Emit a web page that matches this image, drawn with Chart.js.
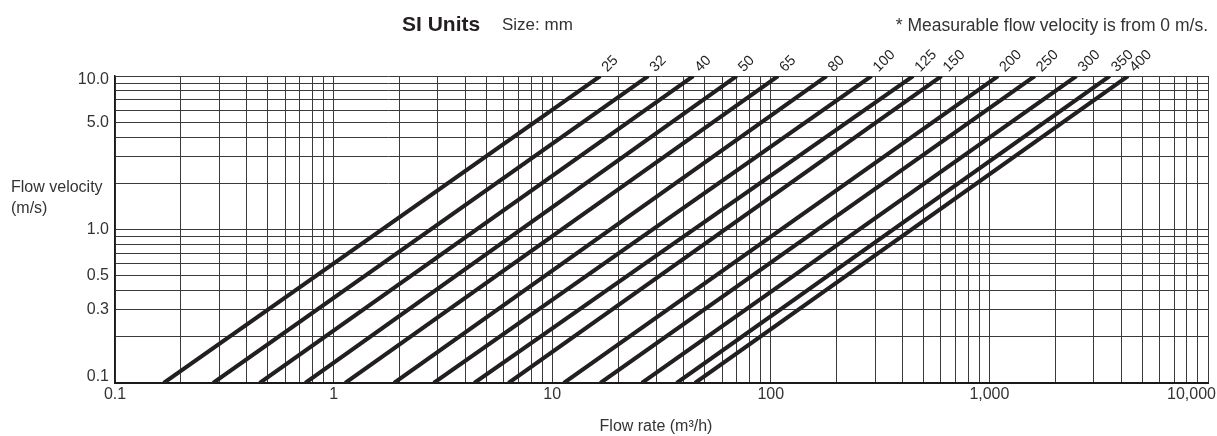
<!DOCTYPE html>
<html>
<head>
<meta charset="utf-8">
<script src="https://cdn.jsdelivr.net/npm/chart.js@4/dist/chart.umd.min.js"></script>
<style>
  html, body { margin: 0; padding: 0; background: #fff; }
  #wrap { width: 1217px; height: 436px; position: relative; }
</style>
</head>
<body>
<div id="wrap"><canvas id="chart" width="1217" height="436"></canvas></div>
<script>
// Nominal pipe sizes (mm)
const pipeSizes = ['25', '32', '40', '50', '65', '80', '100', '125', '150', '200', '250', '300', '350', '400'];
// Flow rate (m³/h) where each size line meets 0.1 m/s
const flowAtLowVelocity = [0.167, 0.281, 0.459, 0.742, 1.13, 1.89, 2.87, 4.40, 6.31, 11.3, 16.6, 25.7, 37.1, 45.0];
// Flow rate (m³/h) where each size line meets 10 m/s
const flowAtHighVelocity = [16.6, 27.5, 44.2, 69.8, 108, 180, 289, 448, 604, 1096, 1614, 2503, 3553, 4309];
// Velocity span of every line (m/s)
const velocityRange = [0.1, 10];

// Axis labels
const xTickValues = [0.1, 1, 10, 100, 1000, 10000];
const xTickLabels = ['0.1', '1', '10', '100', '1,000', '10,000'];
const yTickValues = [0.1, 0.3, 0.5, 1, 5, 10];
const yTickLabels = ['0.1', '0.3', '0.5', '1.0', '5.0', '10.0'];

const FONT = "'Liberation Sans', Arial, Helvetica, sans-serif";
const INK = '#231f20';
const TEXT = '#333333';

// Log grid: 1..9 in every decade between the axis limits
function logGrid(minExp, maxExp) {
  const vals = [];
  for (let e = minExp; e < maxExp; e++) {
    for (let m = 1; m <= 9; m++) vals.push(Number((m * Math.pow(10, e)).toPrecision(6)));
  }
  vals.push(Math.pow(10, maxExp));
  return vals;
}

const datasets = pipeSizes.map((size, i) => ({
  label: size,
  data: [
    { x: flowAtLowVelocity[i], y: velocityRange[0] },
    { x: flowAtHighVelocity[i], y: velocityRange[1] }
  ],
  borderColor: INK,
  borderWidth: 4,
  borderCapStyle: 'butt',
  pointRadius: 0,
  tension: 0,
  fill: false
}));

const annotations = {
  id: 'annotations',
  afterDraw(chart) {
    const ctx = chart.ctx;
    const xs = chart.scales.x;
    const ys = chart.scales.y;
    const area = chart.chartArea;
    ctx.save();

    // Heading
    ctx.textBaseline = 'alphabetic';
    ctx.textAlign = 'left';
    ctx.font = `bold 21px ${FONT}`;
    ctx.fillStyle = INK;
    ctx.fillText('SI Units', 402, 31);
    ctx.font = `17px ${FONT}`;
    ctx.fillStyle = TEXT;
    ctx.fillText('Size: mm', 502, 30);
    ctx.textAlign = 'right';
    ctx.font = `17.5px ${FONT}`;
    ctx.fillText('* Measurable flow velocity is from 0 m/s.', 1208, 31);

    // Y axis title (horizontal, two lines)
    ctx.textAlign = 'left';
    ctx.textBaseline = 'middle';
    ctx.font = `16px ${FONT}`;
    ctx.fillText('Flow velocity', 11, 188);
    ctx.fillText('(m/s)', 11, 209);

    // X axis title
    ctx.textAlign = 'center';
    ctx.fillText('Flow rate (m³/h)', 656, 427);

    // X tick labels, kept inside the canvas
    xTickValues.forEach((v, i) => {
      const txt = xTickLabels[i];
      const w = ctx.measureText(txt).width;
      let cx = xs.getPixelForValue(v);
      cx = Math.max(w / 2 + 2, Math.min(chart.width - w / 2 - 1, cx));
      ctx.fillText(txt, cx, 395);
    });

    // Y tick labels, kept inside the plot's height
    ctx.textAlign = 'right';
    yTickValues.forEach((v, i) => {
      let cy = ys.getPixelForValue(v);
      cy = Math.max(area.top + 4, Math.min(area.bottom - 6, cy));
      ctx.fillText(yTickLabels[i], area.left - 6, cy);
    });

    // Size labels at the upper end of each line
    ctx.font = `14.5px ${FONT}`;
    ctx.fillStyle = INK;
    ctx.textAlign = 'left';
    ctx.textBaseline = 'alphabetic';
    chart.data.datasets.forEach((ds, i) => {
      const pt = chart.getDatasetMeta(i).data[1];
      ctx.save();
      ctx.translate(pt.x + 7, pt.y - 3.5);
      ctx.rotate(-Math.PI / 4);
      ctx.fillText(pipeSizes[i], 0, 0);
      ctx.restore();
    });
    ctx.restore();
  }
};

new Chart(document.getElementById('chart'), {
  type: 'line',
  data: { datasets },
  options: {
    responsive: false,
    animation: false,
    devicePixelRatio: 1,
    layout: { padding: { top: 76, right: 9, left: 0, bottom: 0 } },
    plugins: { legend: { display: false }, tooltip: { enabled: false } },
    scales: {
      x: {
        type: 'logarithmic',
        min: 0.1,
        max: 10000,
        afterBuildTicks(s) { s.ticks = logGrid(-1, 4).map(v => ({ value: v })); },
        afterFit(s) { s.height = 53; s.paddingLeft = 0; s.paddingRight = 0; },
        ticks: { display: false, autoSkip: false },
        grid: { color: '#3a3a3a', lineWidth: 1, drawTicks: false },
        border: { display: true, color: '#1a1a1a', width: 2 }
      },
      y: {
        type: 'logarithmic',
        min: 0.1,
        max: 10,
        afterBuildTicks(s) { s.ticks = logGrid(-1, 1).map(v => ({ value: v })); },
        afterFit(s) { s.width = 115; s.paddingTop = 0; s.paddingBottom = 0; },
        ticks: { display: false, autoSkip: false },
        grid: { color: '#3a3a3a', lineWidth: 1, drawTicks: false },
        border: { display: true, color: '#1a1a1a', width: 1.5 }
      }
    }
  },
  plugins: [annotations]
});
</script>
</body>
</html>
